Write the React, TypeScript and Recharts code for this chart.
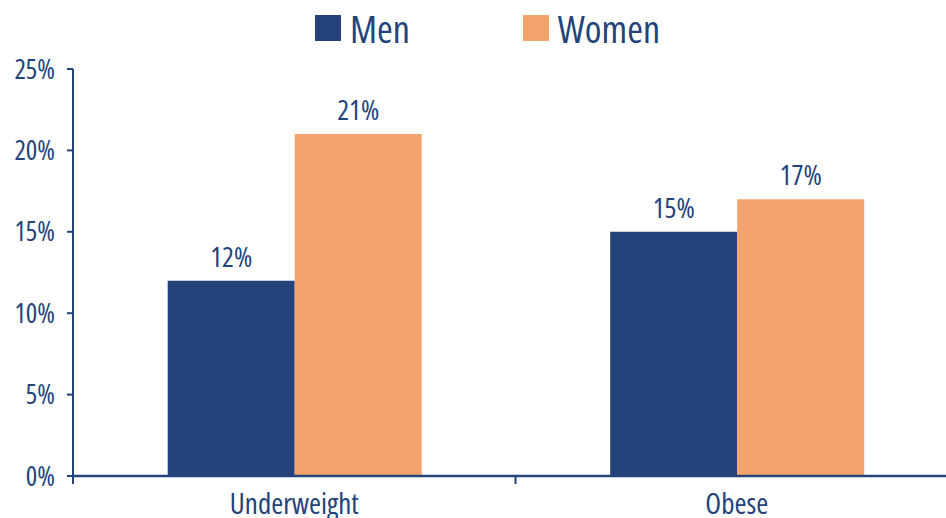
import { BarChart, Bar, XAxis, YAxis, Legend, LabelList } from "recharts"

const groups = ["Underweight", "Obese"]
const men = [12, 15]
const women = [21, 17]
const yTicks = [0, 5, 10, 15, 20, 25]

const data = groups.map((g, i) => ({ group: g, men: men[i], women: women[i] }))

const NAVY = "#23437a"
const PEACH = "#f4a36f"
const FONT = "'Open Sans', sans-serif"
const STRETCH = "75%"

function GroupTick(props: any) {
  const { x, y, payload, index, visibleTicksCount } = props
  const half = payload.offset || 0
  const top = y - 17
  return (
    <g>
      <line x1={x - half} x2={x - half} y1={top} y2={top + 8} stroke={NAVY} strokeWidth={2} />
      {index === visibleTicksCount - 1 && (
        <line x1={x + half} x2={x + half} y1={top} y2={top + 8} stroke={NAVY} strokeWidth={2} />
      )}
      <text
        x={x}
        y={y}
        dy="0.71em"
        textAnchor="middle"
        fill={NAVY}
        fontSize={29}
        style={{ fontFamily: FONT, fontStretch: STRETCH }}
      >
        {payload.value}
      </text>
    </g>
  )
}

function LegendBox({ payload }: any) {
  return (
    <div style={{ display: "flex", justifyContent: "center", gap: 113, marginLeft: 29 }}>
      {(payload || []).map((p: any) => (
        <div key={p.value} style={{ display: "flex", alignItems: "center" }}>
          <span style={{ width: 26, height: 26, background: p.color, display: "inline-block", marginRight: 9 }} />
          <span style={{ fontSize: 38, color: NAVY, fontFamily: FONT, fontStretch: STRETCH, lineHeight: "40px" }}>
            {p.value}
          </span>
        </div>
      ))}
    </div>
  )
}

export default function App() {
  return (
    <div style={{ position: "absolute", left: 0, top: 0, width: 946, height: 518, overflow: "hidden", background: "#fff" }}>
      <BarChart
        width={960}
        height={518}
        data={data}
        margin={{ top: 14, right: 2, left: 0, bottom: 0 }}
        barCategoryGap="21.4%"
        barGap={0}
      >
        <Legend
          verticalAlign="top"
          height={55}
          wrapperStyle={{ top: 8, left: 0, width: 946 }}
          content={<LegendBox />}
        />
        <XAxis
          dataKey="group"
          height={42}
          axisLine={{ stroke: NAVY, strokeWidth: 2.5 }}
          tickLine={false}
          tickSize={8}
          tickMargin={9}
          tick={<GroupTick />}
          interval={0}
        />
        <YAxis
          width={73}
          domain={[0, 25]}
          ticks={yTicks}
          tickFormatter={(v: number) => `${v}%`}
          axisLine={{ stroke: NAVY, strokeWidth: 2 }}
          tickLine={{ stroke: NAVY, strokeWidth: 2 }}
          tickSize={6}
          tickMargin={12}
          tick={{ fill: NAVY, fontSize: 27, style: { fontFamily: FONT, fontStretch: STRETCH } }}
        />
        <Bar dataKey="men" name="Men" fill={NAVY} isAnimationActive={false}>
          <LabelList
            dataKey="men"
            position="top"
            offset={14}
            formatter={(v: any) => `${v}%`}
            style={{ fill: NAVY, fontSize: 28, fontFamily: FONT, fontStretch: STRETCH }}
          />
        </Bar>
        <Bar dataKey="women" name="Women" fill={PEACH} isAnimationActive={false}>
          <LabelList
            dataKey="women"
            position="top"
            offset={14}
            formatter={(v: any) => `${v}%`}
            style={{ fill: NAVY, fontSize: 28, fontFamily: FONT, fontStretch: STRETCH }}
          />
        </Bar>
      </BarChart>
    </div>
  )
}
